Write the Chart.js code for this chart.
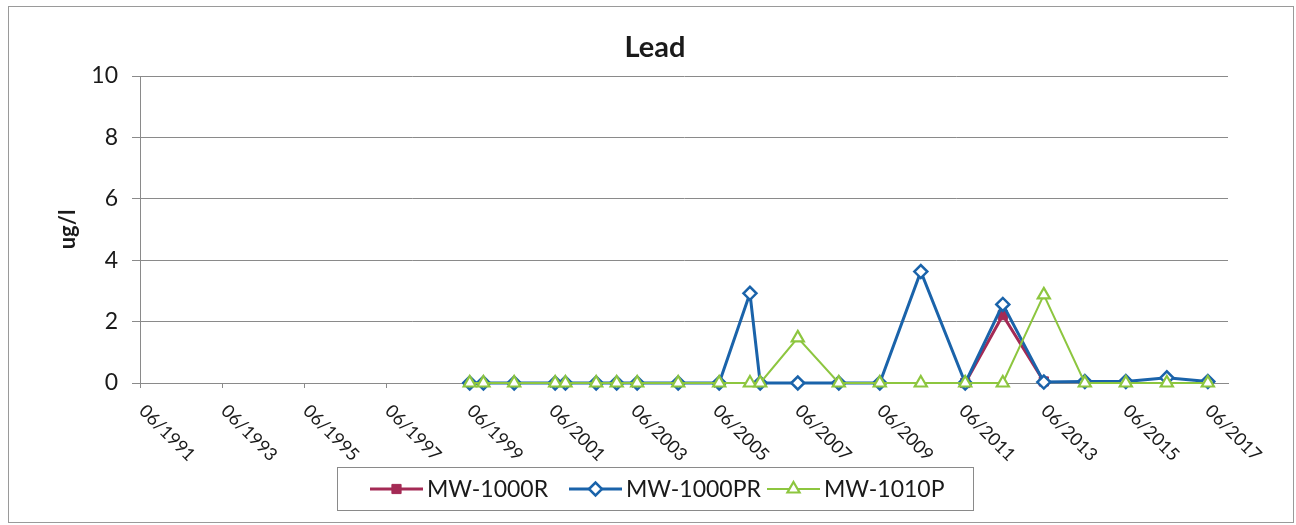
<!DOCTYPE html>
<html><head><meta charset="utf-8">
<script src="https://cdn.jsdelivr.net/npm/chart.js@4/dist/chart.umd.min.js"></script>
<style>html,body{margin:0;padding:0;background:#fff}#wrap{width:1296px;height:525px;position:relative}</style>
</head><body><div id="wrap"><canvas id="c" width="1296" height="525"></canvas></div>
<script>
const chartTitle = 'Lead';
const yAxisTitle = 'ug/l';
const seriesNames = ['MW-1000R', 'MW-1000PR', 'MW-1010P'];
const sampleDates = ['06/1999','10/1999','07/2000','07/2001','10/2001','07/2002','01/2003','07/2003','07/2004','07/2005','04/2006','07/2006','06/2007','06/2008','06/2009','06/2010','07/2011','06/2012','06/2013','06/2014','06/2015','06/2016','06/2017'];
const mw1000R  = [null,null,null,null,null,null,null,null,null,null,null,null,null,null,null,null,0,2.21,0.05,null,null,null,null];
const mw1000PR = [0,0,0,0,0,0,0,0,0,0,2.92,0,0,0,0,3.63,0,2.56,0.03,0.05,0.05,0.17,0.05];
const mw1010P  = [0,0,0,0,0,0,0,0,0,0,0,0,1.47,0,0,0,0,0,2.87,0,0,0,0];
const xTickLabels = ['06/1991','06/1993','06/1995','06/1997','06/1999','06/2001','06/2003','06/2005','06/2007','06/2009','06/2011','06/2013','06/2015','06/2017'];
const yTickValues = [0, 2, 4, 6, 8, 10];

const FONT = 'Lato, "Open Sans", sans-serif';
const TXT = '#1a1a1a';
const GRID = '#8a8a8a';
const colors = ['#A42A55', '#1A63AA', '#8DC63F'];

function tickDec(s){ const [m,y] = s.split('/').map(Number); return y + (m-1)/12; }
function sampleDec(s){ const [m,y] = s.split('/').map(Number); return y + (m-0.5)/12; }
function pts(vals){ return sampleDates.map((d,i)=>({x: sampleDec(d), y: vals[i]})); }

const decor = {
  id: 'decor',
  beforeDraw(chart){
    const ctx = chart.ctx;
    ctx.save();
    ctx.fillStyle = '#fff';
    ctx.fillRect(0,0,chart.width,chart.height);
    ctx.strokeStyle = '#9a9a9a';
    ctx.lineWidth = 1;
    ctx.strokeRect(8.5, 6.5, 1285, 516);
    ctx.restore();
  },
  afterDraw(chart){
    const ctx = chart.ctx;
    const ca = chart.chartArea;
    ctx.save();
    ctx.fillStyle = TXT;
    // title
    ctx.font = 'bold 29px ' + FONT;
    ctx.textAlign = 'center';
    ctx.textBaseline = 'alphabetic';
    ctx.fillText(chartTitle, 655, 57);
    // y title
    ctx.save();
    ctx.translate(68, (ca.top + ca.bottom)/2);
    ctx.rotate(-Math.PI/2);
    ctx.font = 'bold 22px ' + FONT;
    ctx.textAlign = 'center';
    ctx.textBaseline = 'middle';
    ctx.fillText(yAxisTitle, 0, 0);
    ctx.restore();
    // x tick labels
    const xs = chart.scales.x;
    ctx.font = '18px ' + FONT;
    ctx.textAlign = 'left';
    ctx.textBaseline = 'middle';
    xTickLabels.forEach(l => {
      const px = xs.getPixelForValue(tickDec(l));
      ctx.save();
      ctx.translate(px + 2, ca.bottom + 25);
      ctx.rotate(Math.PI/4);
      ctx.fillText(l, 0, 0);
      ctx.restore();
    });
    // legend
    ctx.strokeStyle = '#8a8a8a';
    ctx.lineWidth = 1;
    ctx.strokeRect(337.5, 467.5, 636, 43);
    const starts = [370, 569, 767];
    const ly = 489;
    ctx.font = '23px ' + FONT;
    ctx.textBaseline = 'middle';
    chart.data.datasets.forEach((ds, i) => {
      const x0 = starts[i], x1 = x0 + 53;
      ctx.strokeStyle = ds.borderColor;
      ctx.lineWidth = ds.borderWidth;
      ctx.beginPath(); ctx.moveTo(x0, ly); ctx.lineTo(x1, ly); ctx.stroke();
      ctx.fillStyle = ds.pointBackgroundColor;
      ctx.strokeStyle = ds.borderColor;
      ctx.lineWidth = ds.pointBorderWidth;
      Chart.helpers.drawPoint(ctx, {pointStyle: ds.pointStyle, radius: ds.pointRadius, borderWidth: ds.pointBorderWidth, rotation: 0}, (x0+x1)/2, ly);
      ctx.fillStyle = TXT;
      ctx.fillText(ds.label, x1 + 4, ly + 1);
    });
    ctx.restore();
  }
};

new Chart(document.getElementById('c'), {
  type: 'line',
  data: {
    datasets: [
      { label: seriesNames[0], data: pts(mw1000R), borderColor: colors[0], backgroundColor: colors[0], pointBackgroundColor: colors[0], pointBorderColor: colors[0], pointStyle: 'rect', pointRadius: 6.5, pointBorderWidth: 1, borderWidth: 3, order: 3, clip: false, spanGaps: false },
      { label: seriesNames[1], data: pts(mw1000PR), borderColor: colors[1], backgroundColor: colors[1], pointBackgroundColor: '#ffffff', pointBorderColor: colors[1], pointStyle: 'rectRot', pointRadius: 6.5, pointBorderWidth: 2.5, borderWidth: 3, order: 2, clip: false },
      { label: seriesNames[2], data: pts(mw1010P), borderColor: colors[2], backgroundColor: colors[2], pointBackgroundColor: '#ffffff', pointBorderColor: colors[2], pointStyle: 'triangle', pointRadius: 7, pointBorderWidth: 2.2, borderWidth: 2, order: 1, clip: false }
    ]
  },
  options: {
    responsive: false,
    animation: false,
    devicePixelRatio: 1,
    layout: { padding: { left: 0, right: 68, top: 76, bottom: 132 } },
    plugins: { legend: { display: false }, title: { display: false }, tooltip: { enabled: false } },
    scales: {
      x: {
        type: 'linear',
        min: tickDec(xTickLabels[0]),
        max: 2017.95,
        afterBuildTicks: s => { s.ticks = xTickLabels.map(l => ({ value: tickDec(l) })); },
        afterFit: s => { s.height = 10; },
        ticks: { display: false },
        grid: { drawOnChartArea: false, drawTicks: true, tickLength: 5, color: GRID },
        border: { display: true, color: GRID, width: 1 }
      },
      y: {
        type: 'linear',
        min: 0, max: 10,
        afterBuildTicks: s => { s.ticks = yTickValues.map(v => ({ value: v })); },
        afterFit: s => { s.width = 140; },
        ticks: { font: { family: FONT, size: 23 }, color: TXT, padding: 14 },
        grid: { color: GRID, drawTicks: true, tickLength: 8, tickColor: GRID },
        border: { display: true, color: GRID, width: 1 }
      }
    }
  },
  plugins: [decor]
});
</script>
</body></html>
